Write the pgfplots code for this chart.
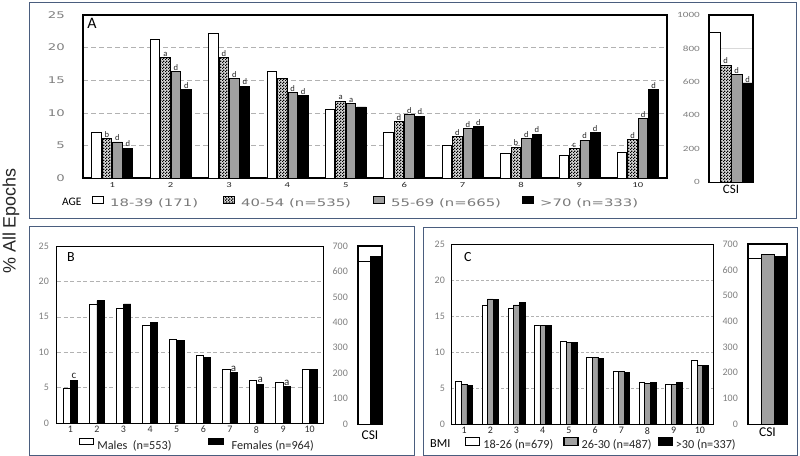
\documentclass[border=0pt]{standalone}
\usepackage{fontspec}
\setmainfont{Liberation Sans}
\newfontfamily\carl{Carlito}
\newfontfamily\carlw[FakeStretch=1.4]{Carlito}
\newfontfamily\dvw[FakeStretch=1.45]{DejaVu Sans}
\usepackage{pgfplots}
\pgfplotsset{compat=1.18}
\usetikzlibrary{patterns}
\definecolor{panelframe}{HTML}{4A5D7E}
\definecolor{tickgray}{HTML}{7F7F7F}
\definecolor{bargray}{HTML}{A0A0A0}
\definecolor{leggray}{HTML}{7A7A7A}

\pgfdeclarepatternformonly{smallcheck}{\pgfpointorigin}{\pgfqpoint{3bp}{3bp}}{\pgfqpoint{3bp}{3bp}}{%
 \pgfpathrectangle{\pgfpointorigin}{\pgfqpoint{1.5bp}{1.5bp}}%
 \pgfpathrectangle{\pgfqpoint{1.5bp}{1.5bp}}{\pgfqpoint{1.5bp}{1.5bp}}%
 \pgfusepath{fill}}

\pgfplotsset{
 common/.style={
  scale only axis, anchor=north west, ybar, major tick length=0pt,
  /pgf/number format/assume math mode=true,
  /pgf/number format/1000 sep={},
  axis line style={line width=1bp},
  legend columns=-1,
  legend style={draw=none, fill=none, inner sep=0pt, column sep=0pt,
    nodes={inner sep=0pt}},
  clip=false,
 },
 nnc/.style={nodes near coords, point meta=explicit symbolic},
 wbar/.style={fill=white, draw=black, line width=0.8bp},
 cbar/.style={fill=gray!30, draw=black, line width=0.8bp, postaction={pattern=smallcheck}},
 gbar/.style={fill=bargray, draw=black, line width=0.8bp},
 kbar/.style={fill=black, draw=black, line width=0.8bp},
}

\begin{document}
\begin{tikzpicture}
\useasboundingbox (0,0) rectangle (800bp,-456bp);
\fill[white] (0,0) rectangle (800bp,-456bp);
\draw[panelframe, line width=1bp] (29bp,-2bp) rectangle (796bp,-218bp);
\draw[panelframe, line width=1bp] (29bp,-226bp) rectangle (414bp,-455bp);
\draw[panelframe, line width=1bp] (423bp,-227bp) rectangle (797bp,-455bp);
\node[rotate=90, font=\fontsize{18}{20}\selectfont, text=black!85] at (11bp,-221bp) {\% All Epochs};

% ---------------- Panel A main
\begin{axis}[common, at={(83bp,-15bp)}, width=584bp, height=163bp,
  xmin=0.5, xmax=10.5, ymin=0, ymax=25, ytick={0,5,...,25}, xtick={1,...,10},
  bar width=9.5bp, ybar=1bp,
  axis line style={line width=1.3bp},
  ymajorgrids, grid style={gray!60, line width=0.6bp, dash pattern=on 5bp off 3bp},
  yticklabel style={font=\dvw\fontsize{9.2}{10}\selectfont, text=tickgray, inner sep=0pt},
  yticklabel shift=18bp,
  xticklabel style={font=\carlw\fontsize{7.6}{8}\selectfont, text=black!85, inner sep=0pt},
  xticklabel shift=4bp,
  every node near coord/.append style={font=\carl\fontsize{8.6}{9}\selectfont, inner sep=0.8bp, text=black!85},
  legend style={at={(0.0154,-0.147)}, anchor=west, font=\dvw\fontsize{10.3}{12}\selectfont, text=leggray,
    /tikz/every odd column/.append style={column sep=6bp}},
  legend image code/.code={\draw[#1, line width=1bp] (0bp,-0.3bp) rectangle (11bp,7bp);},
]
\addplot[wbar] coordinates {(1,7.07) (2,21.26) (3,22.13) (4,16.4) (5,10.55) (6,7.07) (7,5.03) (8,3.74) (9,3.49) (10,3.85)};
\addlegendentry{\makebox[113bp][l]{18-39 (171)}}
\addplot[cbar, nnc] coordinates {(1,6.05) [b] (2,18.5) [a] (3,18.5) [d] (4,15.2) [{}] (5,11.78) [a] (6,8.7) [d] (7,6.36) [d] (8,4.72) [b] (9,4.5) [c] (10,5.85) [d]};
\addlegendentry{\makebox[132bp][l]{40-54 (n=535)}}
\addplot[gbar, nnc] coordinates {(1,5.53) [d] (2,16.34) [d] (3,15.2) [d] (4,13.1) [d] (5,11.42) [a] (6,9.74) [d] (7,7.6) [d] (8,6.05) [d] (9,5.8) [d] (10,9.08) [d]};
\addlegendentry{\makebox[131bp][l]{55-69 (n=665)}}
\addplot[kbar, nnc] coordinates {(1,4.6) [d] (2,13.58) [d] (3,14.09) [d] (4,12.6) [d] (5,10.9) [{}] (6,9.5) [d] (7,7.85) [d] (8,6.72) [d] (9,6.92) [d] (10,13.6) [d]};
\addlegendentry{>70 (n=333)}
\node[anchor=west, inner sep=0pt, font=\carl\fontsize{11.5}{12}\selectfont] at (rel axis cs:-0.036,-0.147) {AGE};
\node[anchor=north west, inner sep=0pt, font=\carl\fontsize{16}{17}\selectfont] at (rel axis cs:0.007,0.982) {A};
\end{axis}

% ---------------- Panel A CSI
\begin{axis}[common, at={(709bp,-15bp)}, width=44bp, height=167bp,
  xmin=0.5, xmax=1.5, ymin=0, ymax=1000, ytick={0,200,...,1000}, xtick={1}, xticklabels={CSI},
  bar width=11bp, ybar=0pt,
  axis line style={line width=1.3bp},
  ymajorgrids, grid style={gray!30, line width=0.5bp},
  yticklabel style={font=\carlw\fontsize{8}{9}\selectfont, text=tickgray, inner sep=0pt},
  yticklabel shift=9bp,
  xticklabel style={font=\carl\fontsize{13}{14}\selectfont, text=black, inner sep=0pt},
  xticklabel shift=3bp,
  every node near coord/.append style={font=\carl\fontsize{8.6}{9}\selectfont, inner sep=0.8bp, text=black!85},
]
\addplot[wbar] coordinates {(1,894)};
\addplot[cbar, nnc] coordinates {(1,700) [d]};
\addplot[gbar, nnc] coordinates {(1,644) [d]};
\addplot[kbar, nnc] coordinates {(1,590) [d]};
\end{axis}

% ---------------- Panel B main
\begin{axis}[common, at={(57bp,-246bp)}, width=266bp, height=177bp,
  xmin=0.5, xmax=10.5, ymin=0, ymax=25, ytick={0,5,...,25}, xtick={1,...,10},
  bar width=7.3bp, ybar=0pt,
  ymajorgrids, grid style={gray!60, line width=0.6bp, dash pattern=on 4bp off 2.5bp},
  yticklabel style={font=\carl\fontsize{10}{11}\selectfont, text=tickgray, inner sep=0pt},
  yticklabel shift=8bp,
  xticklabel style={font=\carl\fontsize{10}{11}\selectfont, text=black!80, inner sep=0pt},
  xticklabel shift=3bp,
  every node near coord/.append style={font=\carl\fontsize{11}{12}\selectfont, inner sep=1bp, text=black!85},
  legend style={at={(0.0827,-0.121)}, anchor=west, font=\carl\fontsize{12.3}{13}\selectfont, text=black!85,
    /tikz/every odd column/.append style={column sep=3bp}},
  legend image code/.code={\draw[#1, line width=1.2bp] (0bp,1bp) rectangle (14bp,7bp);},
]
\addplot[wbar] coordinates {(1,4.84) (2,16.73) (3,16.17) (4,13.82) (5,11.75) (6,9.54) (7,7.52) (8,5.97) (9,5.73) (10,7.52)};
\addlegendentry{\makebox[111bp][l]{Males~~(n=553)}}
\addplot[kbar, nnc] coordinates {(1,6.06) [c] (2,17.29) [{}] (3,16.82) [{}] (4,14.19) [{}] (5,11.65) [{}] (6,9.21) [{}] (7,7.1) [a] (8,5.5) [a] (9,5.12) [a] (10,7.52) [{}]};
\addlegendentry{\hspace{5bp}Females (n=964)}
\node[anchor=north west, inner sep=0pt, font=\carl\fontsize{14}{15}\selectfont] at (rel axis cs:0.0376,0.966) {B};
\end{axis}

% ---------------- Panel B CSI
\begin{axis}[common, at={(358bp,-246bp)}, width=24bp, height=178bp,
  xmin=0.5, xmax=1.5, ymin=0, ymax=700, ytick={0,100,...,700}, xtick={1}, xticklabels={CSI},
  bar width=12bp, ybar=0pt,
  axis line style={line width=1.3bp},
  yticklabel style={font=\carl\fontsize{10}{11}\selectfont, text=tickgray, inner sep=0pt},
  yticklabel shift=10bp,
  xticklabel style={font=\carl\fontsize{13.5}{14}\selectfont, text=black, inner sep=0pt},
  xticklabel shift=7bp,
]
\addplot[wbar] coordinates {(1,638)};
\addplot[kbar] coordinates {(1,658)};
\end{axis}

% ---------------- Panel C main
\begin{axis}[common, at={(451bp,-244bp)}, width=262bp, height=180bp,
  xmin=0.5, xmax=10.5, ymin=0, ymax=25, ytick={0,5,...,25}, xtick={1,...,10},
  bar width=5.6bp, ybar=0pt,
  ymajorgrids, grid style={gray!60, line width=0.6bp, dash pattern=on 3bp off 2bp},
  yticklabel style={font=\carl\fontsize{10}{11}\selectfont, text=tickgray, inner sep=0pt},
  yticklabel shift=6bp,
  xticklabel style={font=\carl\fontsize{10}{11}\selectfont, text=black!85, inner sep=0pt},
  xticklabel shift=3bp,
  legend style={at={(0.0534,-0.108)}, anchor=west, font=\carl\fontsize{12.3}{13}\selectfont, text=black!85,
    /tikz/every odd column/.append style={column sep=3bp}},
  legend image code/.code={\draw[#1, line width=1.2bp] (0bp,0bp) rectangle (14bp,8bp);},
]
\addplot[wbar] coordinates {(1,5.91) (2,16.5) (3,16.03) (4,13.63) (5,11.5) (6,9.2) (7,7.3) (8,5.82) (9,5.55) (10,8.87)};
\addlegendentry{\makebox[80bp][l]{18-26 (n=679)}}
\addplot[gbar] coordinates {(1,5.55) (2,17.37) (3,16.54) (4,13.72) (5,11.32) (6,9.29) (7,7.25) (8,5.64) (9,5.55) (10,8.18)};
\addlegendentry{\makebox[76bp][l]{26-30 (n=487)}}
\addplot[kbar] coordinates {(1,5.4) (2,17.24) (3,16.82) (4,13.72) (5,11.32) (6,9.15) (7,7.12) (8,5.78) (9,5.82) (10,8.09)};
\addlegendentry{>30 (n=337)}
\node[anchor=west, inner sep=0pt, font=\carl\fontsize{12.3}{13}\selectfont] at (rel axis cs:-0.080,-0.108) {BMI};
\node[anchor=north west, inner sep=0pt, font=\carl\fontsize{14}{15}\selectfont] at (rel axis cs:0.0496,0.956) {C};
\end{axis}

% ---------------- Panel C CSI
\begin{axis}[common, at={(748bp,-244bp)}, width=39bp, height=180bp,
  xmin=0.5, xmax=1.5, ymin=0, ymax=700, ytick={0,100,...,700}, xtick={1}, xticklabels={CSI},
  bar width=13bp, ybar=0pt,
  axis line style={line width=1.3bp},
  yticklabel style={font=\carl\fontsize{10}{11}\selectfont, text=tickgray, inner sep=0pt},
  yticklabel shift=10bp,
  xticklabel style={font=\carl\fontsize{13.5}{14}\selectfont, text=black, inner sep=0pt},
  xticklabel shift=4bp,
]
\addplot[wbar] coordinates {(1,644)};
\addplot[gbar] coordinates {(1,661)};
\addplot[kbar] coordinates {(1,652)};
\end{axis}
\end{tikzpicture}
\end{document}
